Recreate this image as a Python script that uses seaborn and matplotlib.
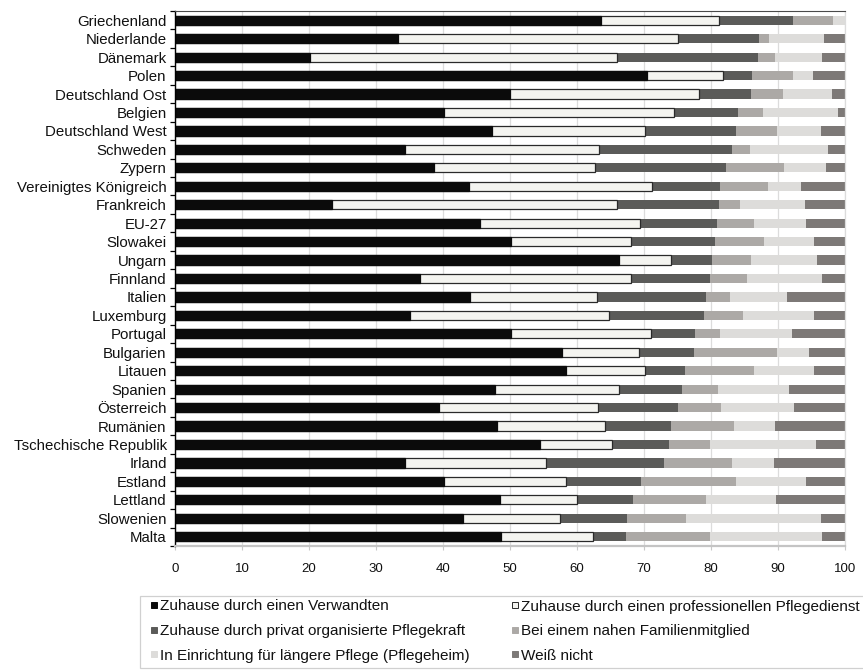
import numpy as np
import pandas as pd
import matplotlib
matplotlib.use("Agg")
import matplotlib.pyplot as plt
from matplotlib.lines import Line2D
from matplotlib.patches import Rectangle
from matplotlib.ticker import FixedLocator
import seaborn as sns

# Countries, top to bottom
countries = [
    "Griechenland", "Niederlande", "Dänemark", "Polen", "Deutschland Ost",
    "Belgien", "Deutschland West", "Schweden", "Zypern", "Vereinigtes Königreich",
    "Frankreich", "EU-27", "Slowakei", "Ungarn", "Finnland",
    "Italien", "Luxemburg", "Portugal", "Bulgarien", "Litauen",
    "Spanien", "Österreich", "Rumänien", "Tschechische Republik", "Irland",
    "Estland", "Lettland", "Slowenien", "Malta",
]

# Shares in percent per answer
verwandter = [63.6, 33.3, 20.2, 70.4, 50.0, 40.1, 47.3, 34.4, 38.7, 43.9,
              23.5, 45.5, 50.2, 66.3, 36.5, 44.1, 35.0, 50.1, 57.8, 58.4,
              47.8, 39.4, 48.1, 54.5, 34.4, 40.2, 48.5, 43.0, 48.6]
pflegedienst = [17.6, 41.7, 45.8, 11.4, 28.2, 34.4, 22.8, 28.9, 24.0, 27.3,
                42.5, 23.9, 17.9, 7.7, 31.5, 18.9, 29.8, 20.9, 11.5, 11.7,
                18.5, 23.8, 16.1, 10.7, 21.0, 18.2, 11.5, 14.5, 13.8]
privat = [11.1, 12.1, 21.0, 4.3, 7.8, 9.5, 13.6, 19.9, 19.6, 10.2,
          15.2, 11.5, 12.5, 6.2, 11.9, 16.2, 14.1, 6.6, 8.2, 6.0,
          9.4, 11.9, 9.8, 8.6, 17.6, 11.1, 8.4, 10.0, 4.9]
familie = [5.9, 1.5, 2.5, 6.1, 4.7, 3.8, 6.2, 2.6, 8.6, 7.1,
           3.2, 5.5, 7.3, 5.8, 5.4, 3.7, 5.9, 3.8, 12.4, 10.3,
           5.4, 6.4, 9.5, 6.0, 10.2, 14.2, 10.8, 8.7, 12.6]
pflegeheim = [1.8, 8.3, 7.1, 3.0, 7.4, 11.2, 6.5, 11.7, 6.3, 4.9,
              9.6, 7.8, 7.4, 9.8, 11.3, 8.4, 10.6, 10.7, 4.7, 8.9,
              10.5, 10.9, 6.0, 15.9, 6.2, 10.5, 10.5, 20.2, 16.7]
weiss_nicht = [0.0, 3.1, 3.4, 4.8, 1.9, 1.0, 3.6, 2.5, 2.8, 6.6,
               6.0, 5.8, 4.7, 4.2, 3.4, 8.7, 4.6, 7.9, 5.4, 4.7,
               8.4, 7.6, 10.5, 4.3, 10.6, 5.8, 10.3, 3.6, 3.4]

series_labels = [
    "Zuhause durch einen Verwandten",
    "Zuhause durch einen professionellen Pflegedienst",
    "Zuhause durch privat organisierte Pflegekraft",
    "Bei einem nahen Familienmitglied",
    "In Einrichtung für längere Pflege (Pflegeheim)",
    "Weiß nicht",
]
x_ticks = list(range(0, 101, 10))

face = ["#0b0b0b", "#f4f4f0", "#5b5b59", "#aca9a6", "#dddcda", "#7d7977"]
edge = ["#0b0b0b", "#2a2a2a", "#5b5b59", "#aca9a6", "#dddcda", "#7d7977"]
lws = [0.9, 0.9, 0, 0, 0, 0]

df = pd.DataFrame({
    "Land": countries,
    series_labels[0]: verwandter,
    series_labels[1]: pflegedienst,
    series_labels[2]: privat,
    series_labels[3]: familie,
    series_labels[4]: pflegeheim,
    series_labels[5]: weiss_nicht,
})
cum = df[series_labels].cumsum(axis=1)
cum.insert(0, "Land", df["Land"])

sns.set_theme(style="white")
plt.rcParams["font.family"] = ["Liberation Sans", "DejaVu Sans"]

W, H = 863, 670
fig = plt.figure(figsize=(W / 100, H / 100), dpi=100)
ax = fig.add_axes([175 / W, 1 - 546 / H, 670 / W, 535 / H])

# stacked bars: draw cumulative totals from the outermost segment inwards
for i in reversed(range(6)):
    sns.barplot(data=cum, x=series_labels[i], y="Land", orient="h",
                color=face[i], saturation=1, width=0.5,
                edgecolor=edge[i], linewidth=lws[i], ax=ax, zorder=2)

ax.set_xlim(0, 100)
ax.set_ylim(len(countries) - 0.5, -0.5)
ax.set_xlabel("")
ax.set_ylabel("")
ax.set_xticks(x_ticks)
ax.set_xticklabels([str(t) for t in x_ticks], fontsize=9.5)
ax.grid(axis="x", color="#dcdcdc", linewidth=0.9, zorder=0)
ax.set_axisbelow(True)

ax.tick_params(axis="y", which="major", length=0, pad=6, labelsize=10.8, labelcolor="#111111")
ax.yaxis.set_minor_locator(FixedLocator(np.arange(-0.5, len(countries), 1.0)))
ax.tick_params(axis="y", which="minor", left=True, length=3.5, width=0.9,
               color="black", direction="out")
ax.tick_params(axis="x", which="major", bottom=True, length=3, width=0.8,
               color="#c8c8c8", pad=9, labelcolor="#111111")

for s in ["top", "right", "bottom", "left"]:
    ax.spines[s].set_visible(True)
ax.spines["left"].set_color("black")
ax.spines["left"].set_linewidth(1.0)
ax.spines["bottom"].set_color("#c4c4c4")
ax.spines["bottom"].set_linewidth(1.6)
ax.spines["top"].set_color("#4a4a4a")
ax.spines["top"].set_linewidth(0.8)
ax.spines["right"].set_color("#dcdcdc")
ax.spines["right"].set_linewidth(0.9)

# legend box (runs past the right edge of the canvas)
fig.patches.append(Rectangle((140 / W, 1 - 668 / H), 740 / W, 72 / H,
                             transform=fig.transFigure, facecolor="white",
                             edgecolor="#d0d0d0", linewidth=0.9, zorder=0))

# legend: two columns, three rows
handles = [Line2D([], [], linestyle="none", marker="s", markersize=4.8,
                  markerfacecolor=face[i], markeredgecolor=edge[i] if i == 1 else face[i],
                  markeredgewidth=0.7)
           for i in range(6)]
order = [0, 2, 4, 1, 3, 5]
leg = fig.legend([handles[i] for i in order], [series_labels[i] for i in order],
                 ncol=2, loc="upper left",
                 bbox_to_anchor=(148 / W, 1 - 599.5 / H),
                 frameon=False, fontsize=11,
                 handlelength=0.72, handletextpad=0.05, labelspacing=0.69,
                 borderpad=0, borderaxespad=0, columnspacing=2.6)
for t in leg.get_texts():
    t.set_color("#111111")

fig.savefig("out.png", dpi=100)
